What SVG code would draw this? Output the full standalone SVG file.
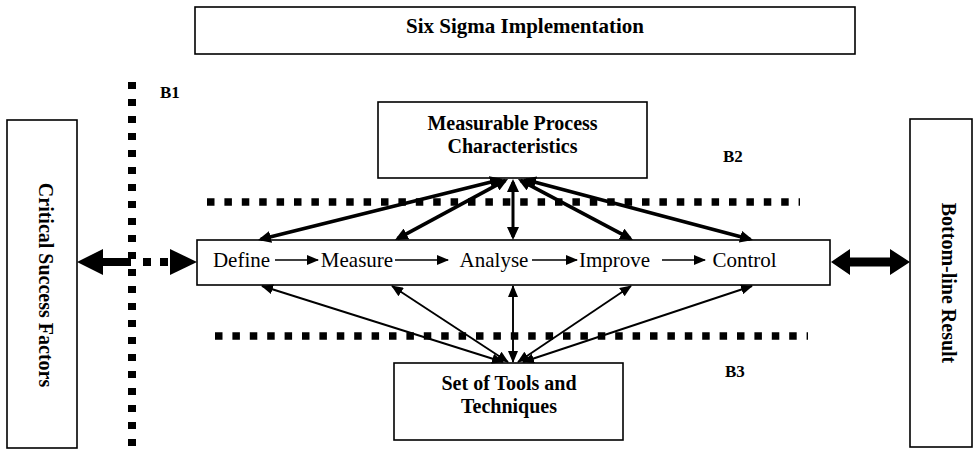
<svg xmlns="http://www.w3.org/2000/svg" width="975" height="454" viewBox="0 0 975 454">
<style>
.box{fill:#fff;stroke:#000;stroke-width:1.6}
.bt{font-family:"Liberation Serif","Times New Roman",serif;font-weight:bold;font-size:20px;fill:#000}
.lb{font-family:"Liberation Serif","Times New Roman",serif;font-weight:bold;font-size:17px;fill:#000}
.st{font-family:"Liberation Serif","Times New Roman",serif;font-size:21px;fill:#000}
.thick{stroke:#000;stroke-width:3.6;fill:none;marker-start:url(#hThick);marker-end:url(#hThick)}
.thin{stroke:#000;stroke-width:1.9;fill:none;marker-start:url(#hThin);marker-end:url(#hThin)}
.step{stroke:#000;stroke-width:1.5;fill:none;marker-end:url(#hSmall)}
.dotH{stroke:#000;stroke-width:7.5;fill:none;stroke-dasharray:7.5 9.9}
.dotV{stroke:#000;stroke-width:8;fill:none;stroke-dasharray:7 10}
</style>
<defs>
<marker id="hThick" viewBox="0 0 13 12" markerWidth="13" markerHeight="12" refX="10" refY="6" orient="auto-start-reverse" markerUnits="userSpaceOnUse"><path d="M0,0 L13,6 L0,12 z" fill="#000"/></marker>
<marker id="hThin" viewBox="0 0 12 10" markerWidth="12" markerHeight="10" refX="11" refY="5" orient="auto-start-reverse" markerUnits="userSpaceOnUse"><path d="M0,0 L12,5 L0,10 z" fill="#000"/></marker>
<marker id="hSmall" viewBox="0 0 12 10" markerWidth="12" markerHeight="10" refX="11" refY="5" orient="auto" markerUnits="userSpaceOnUse"><path d="M0,0 L12,5 L0,10 z" fill="#000"/></marker>
</defs>

<g id="boundaries">
<line class="dotV" x1="132" y1="82" x2="132" y2="454"/>
<line class="dotH" x1="207" y1="202" x2="800" y2="202"/>
<line class="dotH" x1="215" y1="336" x2="808" y2="336"/>
<text class="lb" x="160" y="98">B1</text>
<text class="lb" x="723" y="162">B2</text>
<text class="lb" x="725" y="377">B3</text>
</g>

<g id="title">
<rect class="box" x="195" y="7" width="660" height="47"/>
<text class="bt" x="525" y="33" text-anchor="middle" style="font-size:21px">Six Sigma Implementation</text>
</g>

<g id="csf">
<rect class="box" x="7" y="120" width="70" height="328"/>
<text class="bt" transform="translate(39,285) rotate(90)" text-anchor="middle">Critical Success Factors</text>
</g>

<g id="result">
<rect class="box" x="910" y="119" width="62" height="328"/>
<text class="bt" transform="translate(942,283) rotate(90)" text-anchor="middle">Bottom-line Result</text>
</g>

<g id="mpc">
<rect class="box" x="378" y="102" width="269" height="76"/>
<text class="bt" x="512.5" y="130" text-anchor="middle">Measurable Process</text>
<text class="bt" x="512.5" y="153" text-anchor="middle">Characteristics</text>
</g>

<g id="tools">
<rect class="box" x="394" y="363" width="229" height="77"/>
<text class="bt" x="509" y="390" text-anchor="middle">Set of Tools and</text>
<text class="bt" x="509" y="413" text-anchor="middle">Techniques</text>
</g>

<g id="dmaic">
<rect class="box" x="197" y="240" width="633" height="45"/>
<text class="st" x="241.5" y="267" text-anchor="middle">Define</text>
<text class="st" x="357" y="267" text-anchor="middle">Measure</text>
<text class="st" x="494" y="267" text-anchor="middle">Analyse</text>
<text class="st" x="614.5" y="267" text-anchor="middle">Improve</text>
<text class="st" x="744.5" y="267" text-anchor="middle">Control</text>
</g>

<g id="connectors">
<line class="step" x1="275" y1="260" x2="318" y2="260"/>
<line class="step" x1="395" y1="260" x2="448" y2="260"/>
<line class="step" x1="532" y1="260" x2="577" y2="260"/>
<line class="step" x1="662" y1="260" x2="705" y2="260"/>

<line class="thick" x1="500.1" y1="179.7" x2="260.9" y2="239.3"/>
<line class="thick" x1="505.4" y1="180.4" x2="397.6" y2="238.6"/>
<line class="thick" x1="513" y1="182" x2="513" y2="237" style="stroke-width:3"/>
<line class="thick" x1="520.6" y1="180.4" x2="630.4" y2="238.6"/>
<line class="thick" x1="525.9" y1="179.8" x2="750.1" y2="239.2"/>

<line class="thin" x1="503" y1="362" x2="262" y2="286"/>
<line class="thin" x1="508" y1="362" x2="392" y2="286"/>
<line class="thin" x1="513" y1="362" x2="513" y2="286"/>
<line class="thin" x1="518" y1="362" x2="631" y2="286"/>
<line class="thin" x1="523" y1="362" x2="752" y2="286"/>

<polygon points="77,262 103,249 103,258 131,258 131,266 103,266 103,275" fill="#000"/>
<rect x="143" y="258" width="8" height="8" fill="#000"/>
<rect x="160" y="258" width="8" height="8" fill="#000"/>
<polygon points="170,249 197,262 170,275" fill="#000"/>

<polygon points="831,262 850,249 850,257.5 890,257.5 890,249 910,262 890,275 890,266.5 850,266.5 850,275" fill="#000"/>
</g>
</svg>
